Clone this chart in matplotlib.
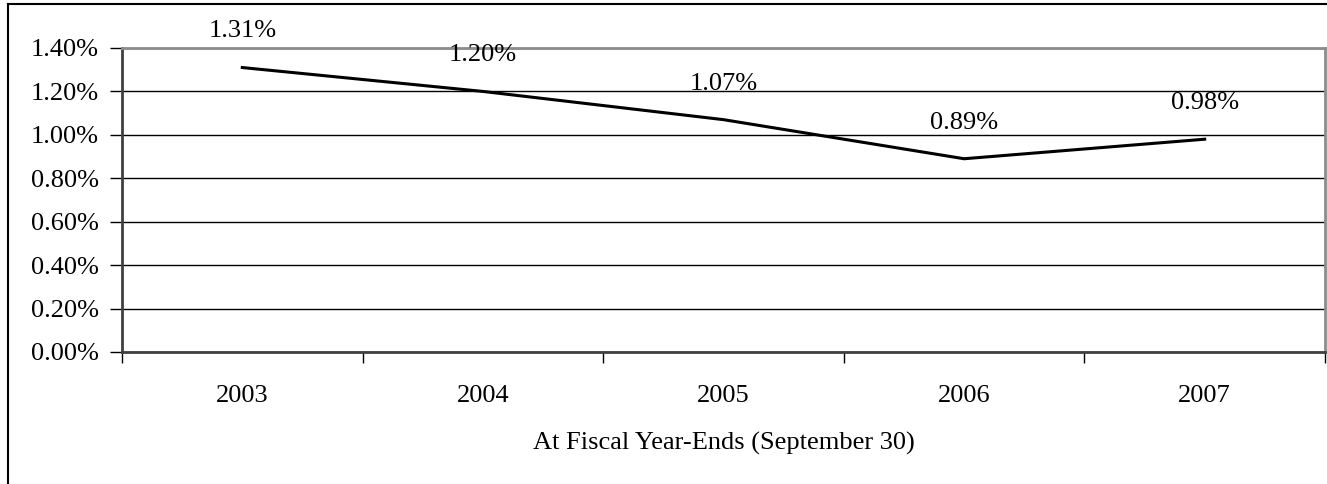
import matplotlib
matplotlib.use("Agg")
import matplotlib.pyplot as plt
from matplotlib.lines import Line2D

years = ["2003", "2004", "2005", "2006", "2007"]
ratios = [1.31, 1.20, 1.07, 0.89, 0.98]
yticks = [0.0, 0.2, 0.4, 0.6, 0.8, 1.0, 1.2, 1.4]

plt.rcParams["font.family"] = ["Liberation Serif", "DejaVu Serif"]
plt.rcParams["font.size"] = 19

fig = plt.figure(figsize=(13.27, 4.84), dpi=100)
ax = fig.add_axes([122 / 1327, 1 - 352 / 484, 1203 / 1327, 304 / 484])

x = list(range(len(years)))
ax.plot(x, ratios, color="black", lw=2.2, solid_joinstyle="miter", zorder=3)

# value labels sit a fixed distance above each point
for xi, v in zip(x, ratios):
    ax.annotate(f"{v:.2f}%", (xi, v), xytext=(0, 26),
                textcoords="offset points", ha="center", va="center",
                annotation_clip=False)

ax.set_xlim(-0.5, len(years) - 0.5)
ax.set_ylim(0, 1.4)
ax.set_yticks(yticks)
ax.set_yticklabels([f"{t:.2f}%" for t in yticks])
ax.set_xticks(x)
ax.set_xticklabels(years)
ax.set_xticks([i + 0.5 for i in range(-1, len(years))], minor=True)
ax.tick_params(axis="x", which="major", length=0, pad=23.5)
ax.tick_params(axis="x", which="minor", length=8, width=1, direction="out")
ax.tick_params(axis="y", length=9, width=1, direction="out", pad=7.5)
ax.yaxis.grid(True, color="black", lw=1)
ax.set_axisbelow(True)

for side in ("top", "right"):
    ax.spines[side].set_color("#8c8c8c")
    ax.spines[side].set_linewidth(2)
for side in ("left", "bottom"):
    ax.spines[side].set_color("#404040")
    ax.spines[side].set_linewidth(2)

ax.set_xlabel("At Fiscal Year-Ends (September 30)", labelpad=18.5)

# outer chart frame (left and top edges)
fig.add_artist(Line2D([7.5 / 1327, 7.5 / 1327], [0, 1 - 3.5 / 484],
                      color="black", lw=1.5, transform=fig.transFigure))
fig.add_artist(Line2D([7.5 / 1327, 1], [1 - 3.5 / 484, 1 - 3.5 / 484],
                      color="black", lw=1.5, transform=fig.transFigure))

fig.savefig("out.png", dpi=100)
